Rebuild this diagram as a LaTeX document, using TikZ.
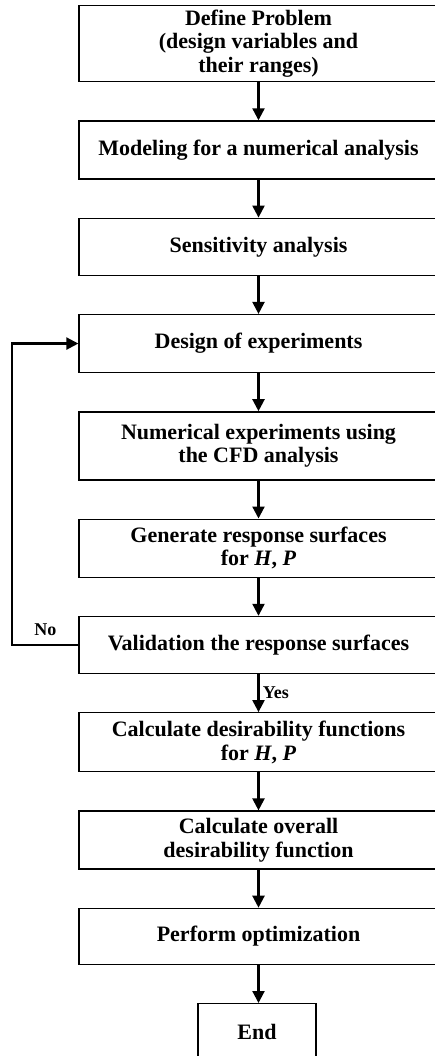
\documentclass[tikz,border=0pt]{standalone}
\usepackage{fontspec}
\setmainfont{Liberation Serif}
\usetikzlibrary{arrows.meta,positioning}

\begin{document}
\begin{tikzpicture}[
    x=1pt,y=1pt,
    node distance=38pt,
    process/.style={rectangle,draw,line width=1.3pt,
      minimum width=359pt,inner sep=2pt,align=center,
      font=\fontsize{22}{23.5}\selectfont\bfseries},
    endbox/.style={process,minimum width=118pt,minimum height=57pt},
    lbl/.style={font=\fontsize{18}{20}\selectfont\bfseries},
    arr/.style={-{Triangle[length=12pt,width=12pt]},line width=2.2pt}
  ]
    \useasboundingbox (0,0) rectangle (435,-1056);
    \clip (0,0) rectangle (435,-1056);

    \node[process,minimum height=76pt,anchor=north] (define) at (258.5,-5)
      {Define Problem\\(design variables and\\their ranges)};
    \node[process,minimum height=58pt,below=of define] (model)
      {Modeling for a numerical analysis};
    \node[process,minimum height=57pt,below=of model] (sens)
      {Sensitivity analysis};
    \node[process,minimum height=58pt,below=of sens] (doe)
      {Design of experiments};
    \node[process,minimum height=68pt,below=of doe] (numexp)
      {Numerical experiments using\\the CFD analysis};
    \node[process,minimum height=58pt,below=of numexp] (gensurf)
      {Generate response surfaces\\for \textit{H}, \textit{P}};
    \node[process,minimum height=57pt,below=of gensurf] (valid)
      {Validation the response surfaces};
    \node[process,minimum height=59pt,below=of valid] (desir)
      {Calculate desirability functions\\for \textit{H}, \textit{P}};
    \node[process,minimum height=58pt,below=of desir] (overall)
      {Calculate overall\\desirability function};
    \node[process,minimum height=56pt,below=of overall] (optim)
      {Perform optimization};
    \node[endbox,below=of optim,xshift=-1.5pt] (end) {End};

    \draw[arr] (define)  -- (model);
    \draw[arr] (model)   -- (sens);
    \draw[arr] (sens)    -- (doe);
    \draw[arr] (doe)     -- (numexp);
    \draw[arr] (numexp)  -- (gensurf);
    \draw[arr] (gensurf) -- (valid);
    \draw[arr] (valid)   -- node[lbl,right]{Yes} (desir);
    \draw[arr] (valid.west) -- node[lbl,above=5pt,pos=0.5]{No} ++(-66,0) |- (doe.west);
    \draw[arr] (desir)   -- (overall);
    \draw[arr] (overall) -- (optim);
    \draw[arr] (optim)   -- (end.north -| optim.south);
  \end{tikzpicture}
\end{document}
